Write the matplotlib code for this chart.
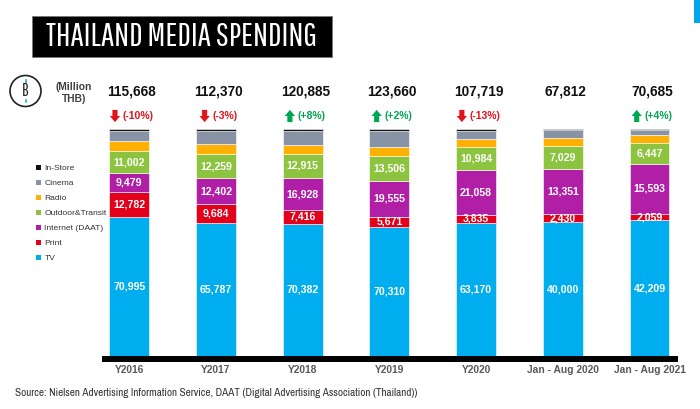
import matplotlib
matplotlib.use("Agg")
import matplotlib.pyplot as plt
import matplotlib.transforms as mtransforms
from matplotlib.patches import Rectangle, Circle, Polygon, Patch
from matplotlib.lines import Line2D
from matplotlib.offsetbox import AnnotationBbox, HPacker, DrawingArea, TextArea

# ---------------- data ----------------
categories = ['Y2016', 'Y2017', 'Y2018', 'Y2019', 'Y2020', 'Jan - Aug 2020', 'Jan - Aug 2021']
totals = [115668, 112370, 120885, 123660, 107719, 67812, 70685]
tv = [70995, 65787, 70382, 70310, 63170, 40000, 42209]
print_media = [12782, 9684, 7416, 5671, 3835, 2430, 2059]
internet = [9479, 12402, 16928, 19555, 21058, 13351, 15593]
outdoor = [11002, 12259, 12915, 13506, 10984, 7029, 6447]
radio = [5400, 4650, 4950, 5000, 3870, 2380, 2480]
cinema = [5200, 6750, 7400, 8700, 4000, 2290, 1650]
instore = [810, 838, 894, 918, 802, 332, 247]
changes = ['(-10%)', '(-3%)', '(+8%)', '(+2%)', '(-13%)', '', '(+4%)']

series_names = ['TV', 'Print', 'Internet (DAAT)', 'Outdoor&Transit', 'Radio', 'Cinema', 'In-Store']
series_values = [tv, print_media, internet, outdoor, radio, cinema, instore]
series_colors = ['#00AEEF', '#E2001A', '#B01FA5', '#8CC43F', '#FFB000', '#8893A6', '#111111']
labelled = [True, True, True, True, False, False, False]

W, H = 700, 409
fig = plt.figure(figsize=(W / 100, H / 100), dpi=100)

def fx(px):
    return px / W

def fy(py):
    return 1 - py / H

# pixel-based transform (origin top-left) for decorations
pix = mtransforms.Affine2D().scale(1 / 100, -1 / 100).translate(0, H / 100) + fig.dpi_scale_trans

ax_bottom_px, ax_top_px = 362, 129
ax = fig.add_axes([fx(105), fy(ax_bottom_px), fx(675) - fx(105), (ax_bottom_px - ax_top_px) / H])
unit_px = 356 - 129
ax.set_ylim(-(ax_bottom_px - 356) / unit_px, 1.0)
ax.set_xlim(-0.28, 6.294)

x = list(range(len(categories)))
bottoms = [0.0] * len(categories)
for name, vals, col, lab in zip(series_names, series_values, series_colors, labelled):
    shares = [v / t for v, t in zip(vals, totals)]
    ax.bar(x, shares, width=0.46, bottom=bottoms, color=col, edgecolor='white', linewidth=0.4)
    if lab:
        for xi, b, s, v in zip(x, bottoms, shares, vals):
            ax.text(xi, b + s / 2, f"{v:,}", ha='center', va='center', color='white',
                    fontsize=7.6, fontweight='bold', family='Liberation Sans')
    bottoms = [b + s for b, s in zip(bottoms, shares)]

ax.axhline(-(ax_bottom_px - 356) / unit_px / 2, color='black', linewidth=4.3, clip_on=False)

for sp in ax.spines.values():
    sp.set_visible(False)
ax.set_yticks([])
ax.set_xticks(x)
ax.set_xticklabels(categories, fontsize=7.4, fontweight='bold', color='#595959', family='Liberation Sans')
ax.tick_params(axis='x', length=0, pad=2.5)

blend = mtransforms.blended_transform_factory(ax.transData, fig.transFigure)
for xi, t in zip(x, totals):
    ax.text(xi + 0.03, fy(92), f"{t:,}", transform=blend, ha='center', va='center',
            fontsize=9.8, fontweight='bold', color='#111111', family='Liberation Sans')

def arrow_area(up, color):
    w, h = 7.4, 8.8
    da = DrawingArea(w, h, 0, 0)
    if up:
        verts = [(w / 2, h), (0, h * 0.5), (w * 0.25, h * 0.5), (w * 0.25, 0),
                 (w * 0.75, 0), (w * 0.75, h * 0.5), (w, h * 0.5)]
    else:
        verts = [(w / 2, 0), (0, h * 0.5), (w * 0.25, h * 0.5), (w * 0.25, h),
                 (w * 0.75, h), (w * 0.75, h * 0.5), (w, h * 0.5)]
    da.add_artist(Polygon(verts, closed=True, facecolor=color, edgecolor='none'))
    return da

for xi, c in zip(x, changes):
    if not c:
        continue
    up = c.startswith('(+')
    color = '#00A651' if up else '#E3131B'
    ta = TextArea(c, textprops=dict(color=color, fontsize=7.6, fontweight='bold', family='Liberation Sans'))
    pack = HPacker(children=[arrow_area(up, color), ta], align='center', pad=0, sep=2)
    ab = AnnotationBbox(pack, (xi + 0.03, fy(116)), xycoords=blend, frameon=False,
                        box_alignment=(0.5, 0.5), pad=0)
    ax.add_artist(ab)

# legend (reversed order)
handles = [Patch(facecolor=c, edgecolor='none', label=n) for n, c in zip(series_names, series_colors)][::-1]
fig.legend(handles=handles, loc='upper left', bbox_to_anchor=(fx(36), fy(164.5)),
           frameon=False, handlelength=0.6, handleheight=0.6,
           handletextpad=0.4, labelspacing=0.87, borderpad=0, borderaxespad=0,
           labelcolor='#333333', prop=dict(family='Liberation Sans', size=6.1))

# title box
fig.patches.append(Rectangle((32, 16), 300, 41, transform=pix, facecolor='black',
                             edgecolor='#777777', linewidth=0.6))
fig.text(182, 37, 'THAILAND MEDIA SPENDING', transform=pix, ha='center', va='center', color='white',
         fontsize=24, family=['Pathway Gothic One', 'DejaVu Sans'])

# baht icon
fig.patches.append(Circle((25.5, 91), 15.5, transform=pix, facecolor='none',
                          edgecolor='#222222', linewidth=1.2))
fig.text(25.5, 91, 'B', transform=pix, ha='center', va='center', color='#222222', fontsize=12.5,
         family=['Pathway Gothic One', 'DejaVu Sans'])
fig.add_artist(Line2D([25.8, 25.8], [80, 82.5], transform=pix, color='#29A8E0', linewidth=1.2))
fig.add_artist(Line2D([25.8, 25.8], [99.5, 102], transform=pix, color='#29A8E0', linewidth=1.2))

fig.text(74, 93, '(Million\nTHB)', transform=pix, ha='center', va='center', color='#404040',
         fontsize=7.4, fontweight='bold', family='Liberation Sans', linespacing=1.15)

# source
fig.text(15, 393, 'Source: Nielsen Advertising Information Service, DAAT (Digital Advertising Association (Thailand))',
         transform=pix, ha='left', va='center', color='#333333', fontsize=8.0,
         family=['Archivo Narrow', 'Liberation Sans'])

# top-right slide marker
fig.patches.append(Rectangle((694, 0), 6, 23, transform=pix, facecolor='#00A6E8', edgecolor='none'))

fig.savefig('out.png', dpi=100)
